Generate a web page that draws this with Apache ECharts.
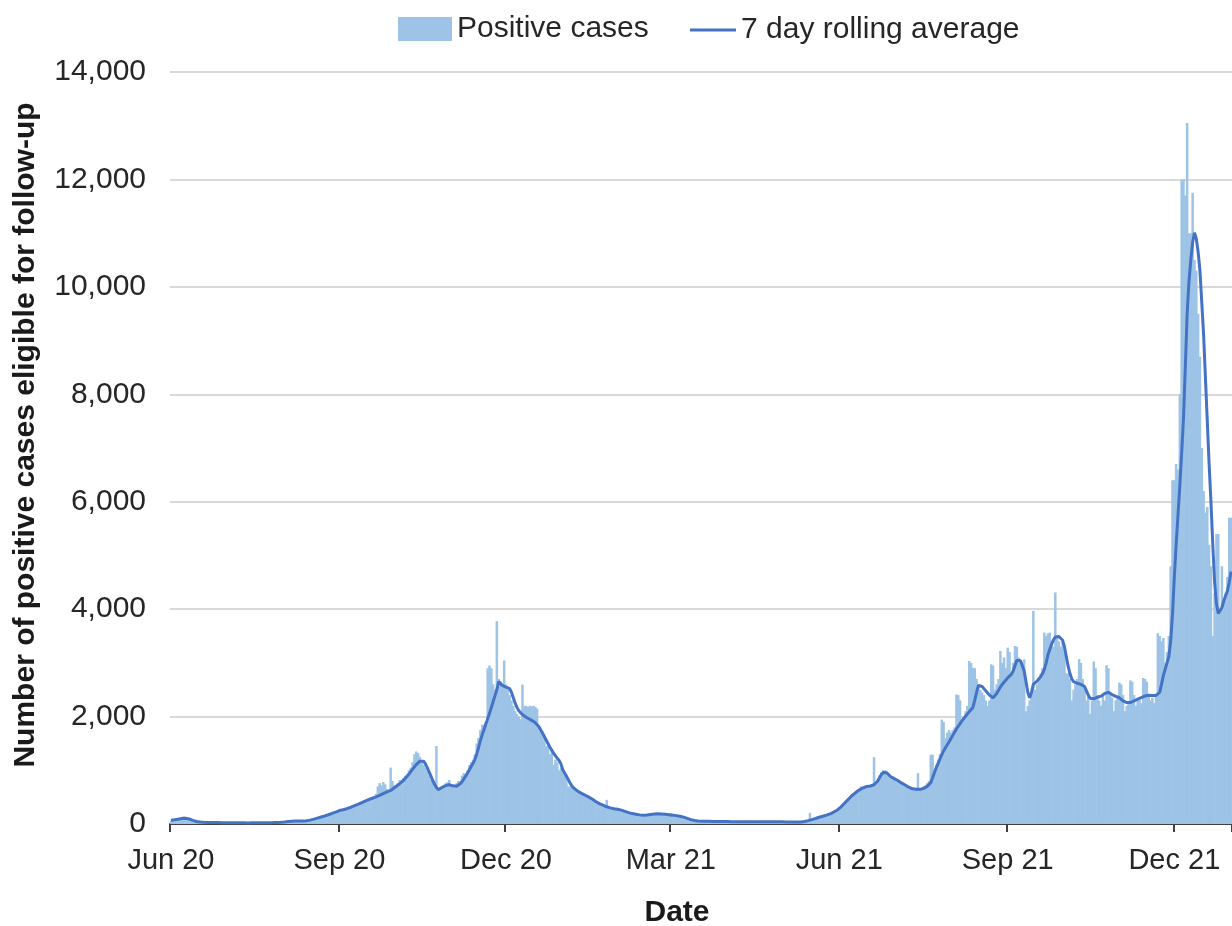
<!DOCTYPE html>
<html>
<head>
<meta charset="utf-8">
<script src="https://cdn.jsdelivr.net/npm/echarts@6/dist/echarts.min.js"></script>
<style>
html,body{margin:0;padding:0;background:#fff;}
#chart{width:1232px;height:926px;}
</style>
</head>
<body>
<div id="chart"></div>
<script>
// First day of the daily series
const startDate = [2020, 5, 1]; // 1 June 2020 (month is 0-based)

// Daily positive cases eligible for follow-up (one value per day, month by month)
const casesDaily = [
  // Jun 2020
  60,85,95,70,110,120,90,140,130,100,80,60,40,35,30,42,28,25,35,30,22,30,26,20,32,24,28,22,26,24,
  // Jul 2020
  22,26,20,18,25,24,20,18,24,22,19,20,23,17,22,24,20,19,25,23,21,26,24,22,28,27,25,32,30,34,36,
  // Aug 2020
  38,42,40,50,52,48,55,58,52,60,56,62,58,66,72,80,78,95,105,112,118,140,135,155,170,165,190,205,215,230,250,
  // Sep 2020
  265,240,280,290,270,320,300,340,330,370,360,390,420,400,440,430,470,490,460,510,560,700,760,720,780,740,650,600,1050,800,
  // Oct 2020
  720,690,760,820,740,850,900,880,1000,1050,1150,1300,1350,1320,1250,1180,1100,1050,980,900,820,760,700,1450,640,660,700,720,760,780,820,
  // Nov 2020
  740,700,680,760,800,720,900,950,880,1000,1100,1150,1200,1300,1500,1600,1750,1850,1850,1900,2900,2950,2900,2600,2500,3776,2700,2650,2550,3043,
  // Dec 2020
  2600,2500,2400,2300,2200,2100,2050,2000,1950,2596,2200,2200,2180,2200,2190,2200,2180,2150,1800,1700,1650,1600,1450,1500,1300,1400,1100,1200,1150,1000,1050,
  // Jan 2021
  1000,900,920,700,700,720,640,620,600,580,560,540,520,500,520,480,440,420,400,380,370,350,340,320,450,300,290,280,280,270,260,
  // Feb 2021
  270,250,240,230,220,210,200,190,185,180,175,170,160,160,165,170,175,180,185,190,195,190,185,185,180,178,175,170,
  // Mar 2021
  200,190,180,160,150,140,135,125,115,100,90,80,70,65,60,55,55,52,50,50,50,48,50,48,46,47,45,46,44,45,44,
  // Apr 2021
  45,44,46,42,43,44,40,42,41,43,40,41,40,38,40,42,41,40,43,42,44,41,42,40,42,41,39,40,41,40,
  // May 2021
  40,38,40,37,39,36,38,35,37,36,40,44,50,58,63,207,85,95,105,118,130,140,150,160,170,185,195,210,230,250,270,
  // Jun 2021
  300,340,370,400,450,480,520,560,580,600,640,660,700,680,700,720,700,720,710,1245,780,820,900,960,1000,1000,960,900,880,870,
  // Jul 2021
  850,820,800,780,760,730,720,700,680,660,650,640,660,947,640,660,700,720,760,800,1290,1290,1000,1100,1200,1300,1944,1900,1600,1700,1750,
  // Aug 2021
  1700,1750,1800,2411,2400,2300,1900,2000,2100,2200,3034,3000,2909,2900,2700,2600,2500,2450,2400,2300,2200,2300,2972,2950,2500,2600,2700,3221,3000,3100,2900,
  // Sep 2021
  3283,3200,2800,3000,3314,3300,3100,3000,2900,3065,2100,2200,2300,2400,3968,2500,2600,2700,2800,2900,3563,3500,3550,3563,3400,3300,4311,3500,3400,3300,
  // Oct 2021
  3400,3200,2806,2800,2700,2300,2500,2600,2700,3070,3000,2700,2500,2300,2400,2050,2300,3026,2900,2400,2300,2200,2400,2300,2956,2900,2400,2350,2100,2300,2400,
  // Nov 2021
  2631,2600,2400,2100,2200,2250,2675,2650,2400,2200,2300,2350,2250,2719,2700,2650,2400,2300,2350,2250,2400,3552,3500,3400,3464,3000,3200,3500,4800,6400,
  // Dec 2021
  6400,6700,6600,8000,12000,12000,11700,13050,11000,11000,11750,10500,10300,9500,8700,7000,6200,5800,5900,5200,4800,3500,4300,5400,5400,4000,4800,4200,4300,4600,5700,
  // Jan 2022
  5700
];

// 7 day rolling average
const rollingAvg = [
  // Jun 2020
  70,74,79,84,90,96,101,105,106,102,94,82,68,55,46,40,36,33,31,30,29,28,28,27,27,26,26,25,25,25,
  // Jul 2020
  24,24,23,23,22,22,22,21,21,21,21,20,20,20,21,21,21,22,22,22,23,23,24,24,25,26,27,28,30,32,34,
  // Aug 2020
  36,39,42,45,48,50,52,54,55,56,57,58,60,62,66,72,80,90,100,110,120,130,140,150,160,172,185,198,210,222,235,
  // Sep 2020
  250,258,266,275,285,296,308,322,338,352,366,380,395,410,425,440,455,468,480,492,505,518,532,548,565,582,598,612,625,640,
  // Oct 2020
  675,700,725,750,780,815,850,890,930,975,1020,1065,1105,1140,1170,1185,1170,1120,1050,970,890,810,740,680,640,650,680,700,715,725,730,
  // Nov 2020
  720,710,700,705,720,750,790,840,890,950,1010,1070,1130,1200,1300,1420,1550,1660,1760,1860,1960,2060,2170,2280,2390,2500,2650,2620,2580,2560,
  // Dec 2020
  2550,2540,2520,2450,2350,2250,2170,2110,2070,2040,2010,1990,1970,1950,1930,1910,1885,1860,1811,1750,1690,1625,1560,1495,1430,1371,1320,1270,1225,1183,1120,
  // Jan 2021
  1010,950,890,830,760,710,670,640,616,595,575,555,540,522,505,485,465,440,418,396,380,365,350,335,320,310,300,292,285,280,275,
  // Feb 2021
  268,258,248,236,224,212,202,194,188,182,176,170,165,163,164,167,172,178,183,187,190,191,190,188,185,181,177,173,
  // Mar 2021
  168,165,160,156,151,145,138,128,117,105,93,82,72,65,60,57,55,53,52,51,50,50,49,48,48,47,47,46,46,45,45,
  // Apr 2021
  45,44,44,43,43,42,42,42,41,41,41,40,40,40,40,41,41,41,42,42,42,42,42,41,41,41,40,40,40,40,
  // May 2021
  40,39,39,38,38,37,37,36,36,36,38,42,48,55,63,72,82,92,102,113,125,135,145,155,166,178,190,205,222,240,262,
  // Jun 2021
  290,320,355,390,425,460,495,530,560,585,610,635,655,672,688,698,704,708,711,730,760,800,860,920,960,975,955,920,885,860,
  // Jul 2021
  845,830,810,790,765,745,725,705,685,668,655,648,645,643,645,650,660,675,700,730,770,860,960,1050,1130,1210,1290,1360,1420,1476,1530,
  // Aug 2021
  1590,1650,1710,1770,1820,1870,1920,1965,2006,2050,2090,2130,2170,2300,2450,2580,2600,2560,2520,2480,2440,2400,2370,2349,2380,2430,2490,2550,2598,2640,2680,
  // Sep 2021
  2720,2750,2785,2850,2950,3050,3065,3040,3003,2850,2650,2450,2349,2450,2598,2630,2660,2691,2740,2800,2878,3000,3150,3252,3350,3430,3480,3501,3490,3460,
  // Oct 2021
  3420,3300,3120,2938,2800,2700,2650,2631,2620,2610,2600,2590,2560,2480,2400,2340,2324,2330,2345,2360,2368,2380,2400,2430,2456,2450,2430,2410,2390,2375,2368,
  // Nov 2021
  2350,2320,2290,2270,2260,2254,2260,2275,2290,2305,2324,2340,2355,2370,2385,2394,2395,2395,2394,2394,2394,2400,2450,2600,2762,2880,3000,3113,3400,3900,
  // Dec 2021
  4600,5200,5750,6300,6900,7550,8500,9500,10100,10500,10830,11006,10900,10650,10300,9700,9100,8300,7500,6700,6000,5200,4500,4100,3920,3950,4030,4150,4250,4340,4500,
  // Jan 2022
  4700
];

// X axis tick labels and the dates they mark
const tickDates  = ['2020-06-01','2020-09-01','2020-12-01','2021-03-01','2021-06-01','2021-09-01','2021-12-01'];
const tickLabels = ['Jun 20','Sep 20','Dec 20','Mar 21','Jun 21','Sep 21','Dec 21'];

// Y axis
const yMin = 0, yMax = 14000, yStep = 2000;

// Category dates (one per day)
const categories = casesDaily.map(function (_, i) {
  const d = new Date(Date.UTC(startDate[0], startDate[1], startDate[2] + i));
  return d.toISOString().slice(0, 10);
});

const tickSet = new Set(tickDates);
const FONT = "'Liberation Sans', Arial, Helvetica, sans-serif";
const BAR = '#9dc3e6', LINE = '#4472c4';

const chart = echarts.init(document.getElementById('chart'), null, { renderer: 'canvas' });
chart.setOption({
  animation: false,
  backgroundColor: '#ffffff',
  textStyle: { fontFamily: FONT },
  legend: [
    {
      data: [{ name: 'Positive cases', icon: 'rect' }],
      left: 398, top: 14, padding: 0,
      itemWidth: 54, itemHeight: 24,
      textStyle: { fontSize: 30, color: '#262626', fontFamily: FONT }
    },
    {
      data: [{ name: '7 day rolling average', icon: 'rect' }],
      left: 690, top: 15, padding: 0,
      itemWidth: 46, itemHeight: 3,
      itemStyle: { color: LINE },
      textStyle: { fontSize: 30, color: '#262626', fontFamily: FONT }
    }
  ],
  grid: { left: 170, right: 0, top: 72, bottom: 102, containLabel: false, outerBoundsMode: 'none' },
  xAxis: {
    type: 'category',
    data: categories,
    boundaryGap: true,
    name: 'Date',
    nameLocation: 'middle',
    nameGap: 74,
    nameTextStyle: { fontSize: 30, fontWeight: 'bold', color: '#1a1a1a', fontFamily: FONT, padding: [0, 48, 0, 0] },
    axisLine: { show: true, lineStyle: { color: '#404040', width: 2 } },
    axisTick: {
      show: true, length: 8,
      interval: function (idx, val) { return tickSet.has(val); },
      lineStyle: { color: '#404040', width: 2 }
    },
    axisLabel: {
      interval: function (idx, val) { return tickSet.has(val); },
      formatter: function (val) { const k = tickDates.indexOf(val); return k >= 0 ? tickLabels[k] : ''; },
      fontSize: 29, color: '#262626', margin: 22, fontFamily: FONT
    },
    splitLine: { show: false }
  },
  yAxis: {
    type: 'value',
    min: yMin, max: yMax, interval: yStep,
    name: 'Number of positive cases eligible for follow-up',
    nameLocation: 'middle',
    nameGap: 129,
    nameTextStyle: { fontSize: 30, fontWeight: 'bold', color: '#1a1a1a', fontFamily: FONT, padding: [0, 0, 0, 26] },
    axisLine: { show: false },
    axisTick: { show: false },
    axisLabel: {
      fontSize: 30, color: '#262626', margin: 24, fontFamily: FONT,
      formatter: function (v) { return v.toLocaleString('en-US'); }
    },
    splitLine: { show: true, lineStyle: { color: '#d9d9d9', width: 2 } }
  },
  series: [
    {
      name: 'Positive cases',
      type: 'bar',
      data: casesDaily,
      barWidth: 2.5,
      barGap: '-100%',
      itemStyle: { color: BAR, borderWidth: 0 },
      z: 2
    },
    {
      name: '7 day rolling average',
      type: 'line',
      data: rollingAvg,
      symbol: 'none',
      showSymbol: false,
      lineStyle: { color: LINE, width: 3 },
      itemStyle: { color: LINE },
      z: 3
    }
  ]
});
</script>
</body>
</html>
